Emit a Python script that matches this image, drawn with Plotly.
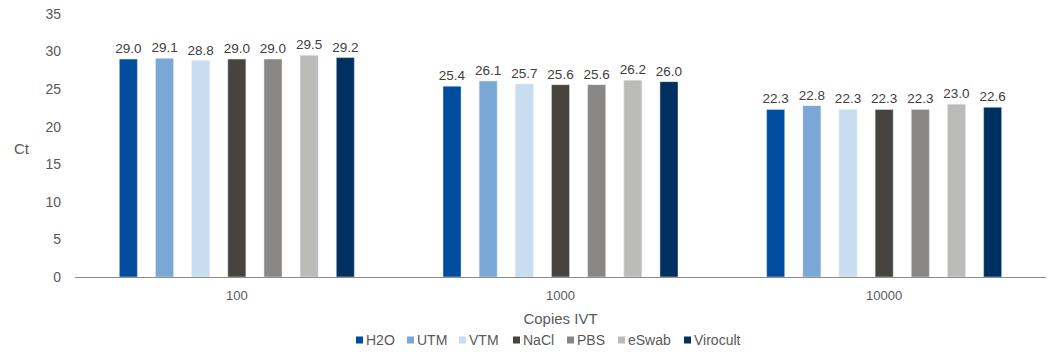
import plotly.graph_objects as go

categories = ["100", "1000", "10000"]
series_names = ["H2O", "UTM", "VTM", "NaCl", "PBS", "eSwab", "Virocult"]
values = {
    "H2O": [29.0, 25.4, 22.3],
    "UTM": [29.1, 26.1, 22.8],
    "VTM": [28.8, 25.7, 22.3],
    "NaCl": [29.0, 25.6, 22.3],
    "PBS": [29.0, 25.6, 22.3],
    "eSwab": [29.5, 26.2, 23.0],
    "Virocult": [29.2, 26.0, 22.6],
}
colors = ["#004C9E", "#7BA7D7", "#C9DDF1", "#47433F", "#898785", "#BBBBBA", "#00305F"]

W, H = 1048, 354
ML, MR, MT, MB = 75, 2, 14, 77
PW, PH = W - ML - MR, H - MT - MB

fig = go.Figure()
for name, col in zip(series_names, colors):
    fig.add_trace(go.Bar(
        x=categories, y=values[name], name=name, marker_color=col,
        texttemplate="%{y:.1f}", textposition="outside", cliponaxis=False,
        constraintext="none",
        textfont=dict(size=13.5, color="#404040", family="Liberation Sans, Arial"),
    ))

fig.update_layout(
    width=W, height=H,
    margin=dict(l=ML, r=MR, t=MT, b=MB),
    barmode="group", bargap=0.218, bargroupgap=0.5,
    plot_bgcolor="white", paper_bgcolor="white",
    font=dict(family="Liberation Sans, Arial", size=13, color="#595959"),
    xaxis=dict(type="category", showline=True, linecolor="#8C8C8C", linewidth=1,
               ticks="", automargin=False, ticklabelstandoff=6,
               title=dict(text="Copies IVT", font=dict(size=15), standoff=11),
               tickfont=dict(size=13)),
    yaxis=dict(range=[0, 35], dtick=5, showgrid=False, zeroline=False, showline=False,
               automargin=False, tickfont=dict(size=14), ticklabelstandoff=13),
    showlegend=False,
)

# y-axis title (horizontal, as in the reference)
fig.add_annotation(text="Ct", xref="paper", yref="paper",
                   x=(22 - ML) / PW, y=(H - MB - 148) / PH,
                   xanchor="center", yanchor="middle", showarrow=False,
                   font=dict(size=15, color="#595959"))

# custom compact legend
legend_x = [356, 407, 459, 513, 567, 618, 684]
legend_y = 340
for name, col, lx in zip(series_names, colors, legend_x):
    fig.add_shape(type="rect", xref="paper", yref="paper",
                  x0=(lx - ML) / PW, x1=(lx + 7 - ML) / PW,
                  y0=(H - MB - (legend_y + 3.5)) / PH, y1=(H - MB - (legend_y - 3.5)) / PH,
                  fillcolor=col, line=dict(width=0))
    fig.add_annotation(text=name, xref="paper", yref="paper",
                       x=(lx + 8 - ML) / PW, y=(H - MB - legend_y) / PH,
                       xanchor="left", yanchor="middle", showarrow=False,
                       font=dict(size=14, color="#595959"))

fig.write_html("out.html")
